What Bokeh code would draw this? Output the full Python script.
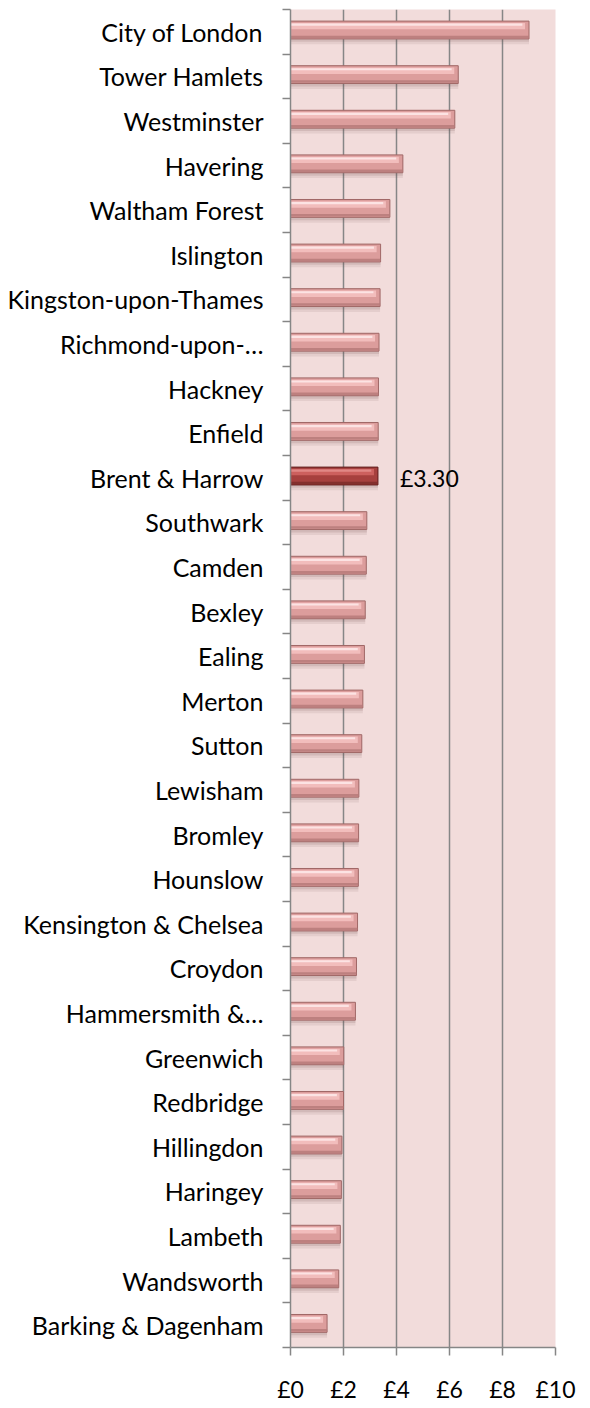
from bokeh.plotting import figure
from bokeh.models import Range1d, FixedTicker, ColumnDataSource
from bokeh.core.properties import value
from bokeh.embed import file_html
from bokeh.resources import INLINE

boroughs = ["City of London", "Tower Hamlets", "Westminster", "Havering", "Waltham Forest",
            "Islington", "Kingston-upon-Thames", "Richmond-upon-…", "Hackney", "Enfield",
            "Brent & Harrow", "Southwark", "Camden", "Bexley", "Ealing", "Merton", "Sutton",
            "Lewisham", "Bromley", "Hounslow", "Kensington & Chelsea", "Croydon",
            "Hammersmith &…", "Greenwich", "Redbridge", "Hillingdon", "Haringey", "Lambeth",
            "Wandsworth", "Barking & Dagenham"]
cost = [9.00, 6.33, 6.20, 4.24, 3.75, 3.40, 3.38, 3.34, 3.32, 3.31, 3.30, 2.88, 2.86, 2.82,
        2.79, 2.73, 2.69, 2.58, 2.57, 2.56, 2.53, 2.49, 2.45, 2.01, 2.00, 1.94, 1.92, 1.88,
        1.82, 1.38]
highlight = "Brent & Harrow"
highlight_label = "£3.30"
x_ticks = [0, 2, 4, 6, 8, 10]
x_tick_labels = ["£0", "£2", "£4", "£6", "£8", "£10"]

FONT = "Lato"
FS_CAT = "25px"
FS_NUM = "23px"
GRID = "#868686"

n = len(boroughs)
pos = list(range(n))
yc = [p - 0.04 for p in pos]
is_hi = [b == highlight for b in boroughs]
main_col = ["#A6403E" if h else "#DC9D9C" for h in is_hi]
top_col = ["#CC605E" if h else "#F2BDBC" for h in is_hi]
shine_col = ["#E08886" if h else "#FCE3E3" for h in is_hi]
bot_col = ["#7A2A29" if h else "#B57978" for h in is_hi]
edge_col = ["#5E1C1B" if h else "#A06867" for h in is_hi]

H = 0.40
src = ColumnDataSource(dict(
    y=yc, cost=cost, main=main_col, top=top_col, shine=shine_col, bot=bot_col, edge=edge_col,
    ysh1=[v + 0.08 for v in yc], ysh2=[v + 0.05 for v in yc],
    ytop=[v - H * 0.22 for v in yc], yshine=[v - H * 0.3 for v in yc],
    ybot=[v + H * 0.39 for v in yc],
    ctop=[c - 0.15 for c in cost], cshine=[c - 0.25 for c in cost],
))

p = figure(width=590, height=1408, output_backend="svg", toolbar_location=None,
           x_range=Range1d(0, 10), y_range=Range1d(n - 0.5, -0.5),
           min_border_left=290, min_border_right=35, min_border_top=9, min_border_bottom=61)
p.background_fill_color = "#F2DCDB"
p.border_fill_color = "white"
p.outline_line_color = None

# shadows
p.hbar(y="ysh1", left=0, right="cost", height=H + 0.08, source=src,
       fill_color="#6E4A4A", fill_alpha=0.10, line_color=None)
p.hbar(y="ysh2", left=0, right="cost", height=H + 0.03, source=src,
       fill_color="#6E4A4A", fill_alpha=0.15, line_color=None)
# main bar
p.hbar(y="y", left=0, right="cost", height=H, source=src,
       fill_color="main", line_color="edge", line_width=1)
# top lighter half
p.hbar(y="ytop", left=0.03, right="ctop", height=H * 0.36, source=src,
       fill_color="top", line_color=None)
# thin shine line
p.hbar(y="yshine", left=0.03, right="cshine", height=H * 0.12, source=src,
       fill_color="shine", line_color=None)
# bottom darker band
p.hbar(y="ybot", left=0, right="cost", height=H * 0.14, source=src,
       fill_color="bot", line_color=None, fill_alpha=0.8)

hi_idx = boroughs.index(highlight)
p.text(x=[cost[hi_idx]], y=[pos[hi_idx]], text=[highlight_label], x_offset=22,
       text_baseline="middle", text_align="left", text_color="black",
       text_font=value(FONT), text_font_size=FS_NUM)

# y axis
p.yaxis.ticker = FixedTicker(ticks=pos, minor_ticks=[i - 0.5 for i in range(n + 1)])
p.yaxis.major_label_overrides = {i: b for i, b in enumerate(boroughs)}
p.yaxis.major_tick_out = 0
p.yaxis.major_tick_in = 0
p.yaxis.minor_tick_out = 8
p.yaxis.minor_tick_in = 0
p.yaxis.minor_tick_line_color = GRID
p.yaxis.minor_tick_line_width = 1.5
p.yaxis.axis_line_color = GRID
p.yaxis.axis_line_width = 1.5
p.yaxis.major_label_standoff = 19
p.yaxis.major_label_text_font = FONT
p.yaxis.major_label_text_font_size = FS_CAT
p.yaxis.major_label_text_color = "black"

# x axis
p.xaxis.ticker = FixedTicker(ticks=x_ticks, minor_ticks=[])
p.xaxis.major_label_overrides = dict(zip(x_ticks, x_tick_labels))
p.xaxis.major_tick_out = 8
p.xaxis.major_tick_in = 0
p.xaxis.major_tick_line_color = GRID
p.xaxis.major_tick_line_width = 1.5
p.xaxis.axis_line_color = GRID
p.xaxis.axis_line_width = 1.5
p.xaxis.major_label_standoff = 19
p.xaxis.major_label_text_font = FONT
p.xaxis.major_label_text_font_size = FS_NUM
p.xaxis.major_label_text_color = "black"

p.xgrid.ticker = FixedTicker(ticks=x_ticks)
p.xgrid.grid_line_color = GRID
p.xgrid.grid_line_width = 1.5
p.ygrid.grid_line_color = None

open("out.html", "w").write(file_html(p, INLINE))
